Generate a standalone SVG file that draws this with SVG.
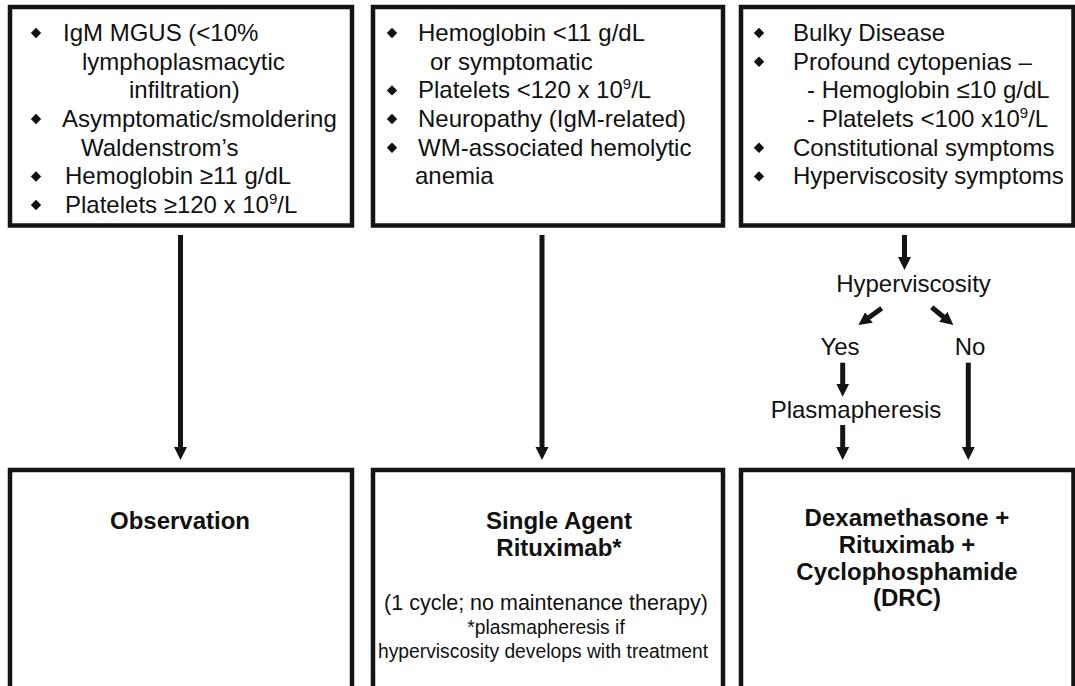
<svg xmlns="http://www.w3.org/2000/svg" width="1075" height="686" viewBox="0 0 1075 686">
<style>
.box{fill:#fff;stroke:#141414;stroke-width:4.5}
.t{font-family:"Liberation Sans",Arial,sans-serif;font-size:24px;fill:#111}
.b{font-family:"Liberation Sans",Arial,sans-serif;font-size:24px;font-weight:bold;fill:#111;text-anchor:middle}
.s{font-family:"Liberation Sans",Arial,sans-serif;fill:#111;text-anchor:middle}
.c{text-anchor:middle}
.sup{font-size:15px}
.ar{stroke:#141414;stroke-width:5;fill:none;marker-end:url(#ah)}
</style>
<defs>
<marker id="ah" markerUnits="userSpaceOnUse" markerWidth="14" markerHeight="14" viewBox="0 0 14 14" refX="3" refY="7" orient="auto">
<path d="M0,0.5 L13,7 L0,13.5 z" fill="#141414"/>
</marker>
<path id="dot" d="M0,-5.2 L5.2,0 L0,5.2 L-5.2,0 z" fill="#111"/>
</defs>
<rect width="1075" height="686" fill="#fff"/>

<g id="box-mgus">
<rect class="box" x="10" y="7" width="342" height="218.5"/>
<use href="#dot" x="36" y="33"/>
<use href="#dot" x="36" y="119"/>
<use href="#dot" x="36" y="176.5"/>
<use href="#dot" x="36" y="205"/>
<text class="t" x="63" y="41">IgM MGUS (&lt;10%</text>
<text class="t" x="82" y="69.7">lymphoplasmacytic</text>
<text class="t" x="129" y="98.4">infiltration)</text>
<text class="t" x="62" y="127">Asymptomatic/smoldering</text>
<text class="t" x="81" y="155.7">Waldenstrom’s</text>
<text class="t" x="65" y="184.4">Hemoglobin ≥11 g/dL</text>
<text class="t" x="65" y="213">Platelets ≥120 x 10<tspan class="sup" dy="-9">9</tspan><tspan dy="9">/L</tspan></text>
</g>

<g id="box-symptomatic">
<rect class="box" x="373" y="7" width="350" height="218.5"/>
<use href="#dot" x="392" y="33"/>
<use href="#dot" x="392" y="90.4"/>
<use href="#dot" x="392" y="119"/>
<use href="#dot" x="392" y="147.7"/>
<text class="t" x="418" y="41">Hemoglobin &lt;11 g/dL</text>
<text class="t" x="430" y="69.7">or symptomatic</text>
<text class="t" x="418" y="98.4">Platelets &lt;120 x 10<tspan class="sup" dy="-9">9</tspan><tspan dy="9">/L</tspan></text>
<text class="t" x="418" y="127">Neuropathy (IgM-related)</text>
<text class="t" x="418" y="155.7">WM-associated hemolytic</text>
<text class="t" x="415" y="184.4">anemia</text>
</g>

<g id="box-bulky">
<rect class="box" x="741" y="7" width="332.5" height="218.5"/>
<use href="#dot" x="759" y="33"/>
<use href="#dot" x="759" y="61.7"/>
<use href="#dot" x="759" y="147.7"/>
<use href="#dot" x="759" y="176.4"/>
<text class="t" x="793" y="41">Bulky Disease</text>
<text class="t" x="793" y="69.7">Profound cytopenias –</text>
<text class="t" x="807" y="98.4">- Hemoglobin ≤10 g/dL</text>
<text class="t" x="807" y="127">- Platelets &lt;100 x10<tspan class="sup" dy="-9">9</tspan><tspan dy="9">/L</tspan></text>
<text class="t" x="793" y="155.7">Constitutional symptoms</text>
<text class="t" x="793" y="184.4">Hyperviscosity symptoms</text>
</g>

<g id="label-hyperviscosity"><text class="t c" x="913.5" y="292" font-size="25">Hyperviscosity</text></g>
<g id="label-yes"><text class="t c" x="840" y="355">Yes</text></g>
<g id="label-no"><text class="t c" x="970" y="355">No</text></g>
<g id="label-plasmapheresis"><text class="t c" x="856" y="418">Plasmapheresis</text></g>

<g id="box-observation">
<rect class="box" x="10" y="470" width="342" height="240"/>
<text class="b" x="180" y="529">Observation</text>
</g>

<g id="box-rituximab">
<rect class="box" x="373" y="470" width="350" height="240"/>
<text class="b" x="559" y="529">Single Agent</text>
<text class="b" x="559" y="556">Rituximab*</text>
<text class="s" x="546" y="610" font-size="21.5">(1 cycle; no maintenance therapy)</text>
<text class="s" x="546" y="634" font-size="19.3">*plasmapheresis if</text>
<text class="s" x="543" y="658" font-size="19.3">hyperviscosity develops with treatment</text>
</g>

<g id="box-drc">
<rect class="box" x="741" y="470" width="332.5" height="240"/>
<text class="b" x="907" y="526">Dexamethasone +</text>
<text class="b" x="907" y="553">Rituximab +</text>
<text class="b" x="907" y="580">Cyclophosphamide</text>
<text class="b" x="907" y="606">(DRC)</text>
</g>

<g id="connectors">
<line class="ar" x1="180.5" y1="235" x2="180.5" y2="450"/>
<line class="ar" x1="542" y1="235" x2="542" y2="450"/>
<line class="ar" x1="904.5" y1="235" x2="904.5" y2="260"/>
<line class="ar" x1="881.7" y1="308.3" x2="866.5" y2="319.2"/>
<line class="ar" x1="931.7" y1="307.3" x2="945.6" y2="318.7"/>
<line class="ar" x1="842.7" y1="362.7" x2="842.7" y2="386.7"/>
<line class="ar" x1="842.7" y1="425" x2="842.7" y2="450"/>
<line class="ar" x1="968.3" y1="362.7" x2="968.3" y2="450"/>
</g>
</svg>
